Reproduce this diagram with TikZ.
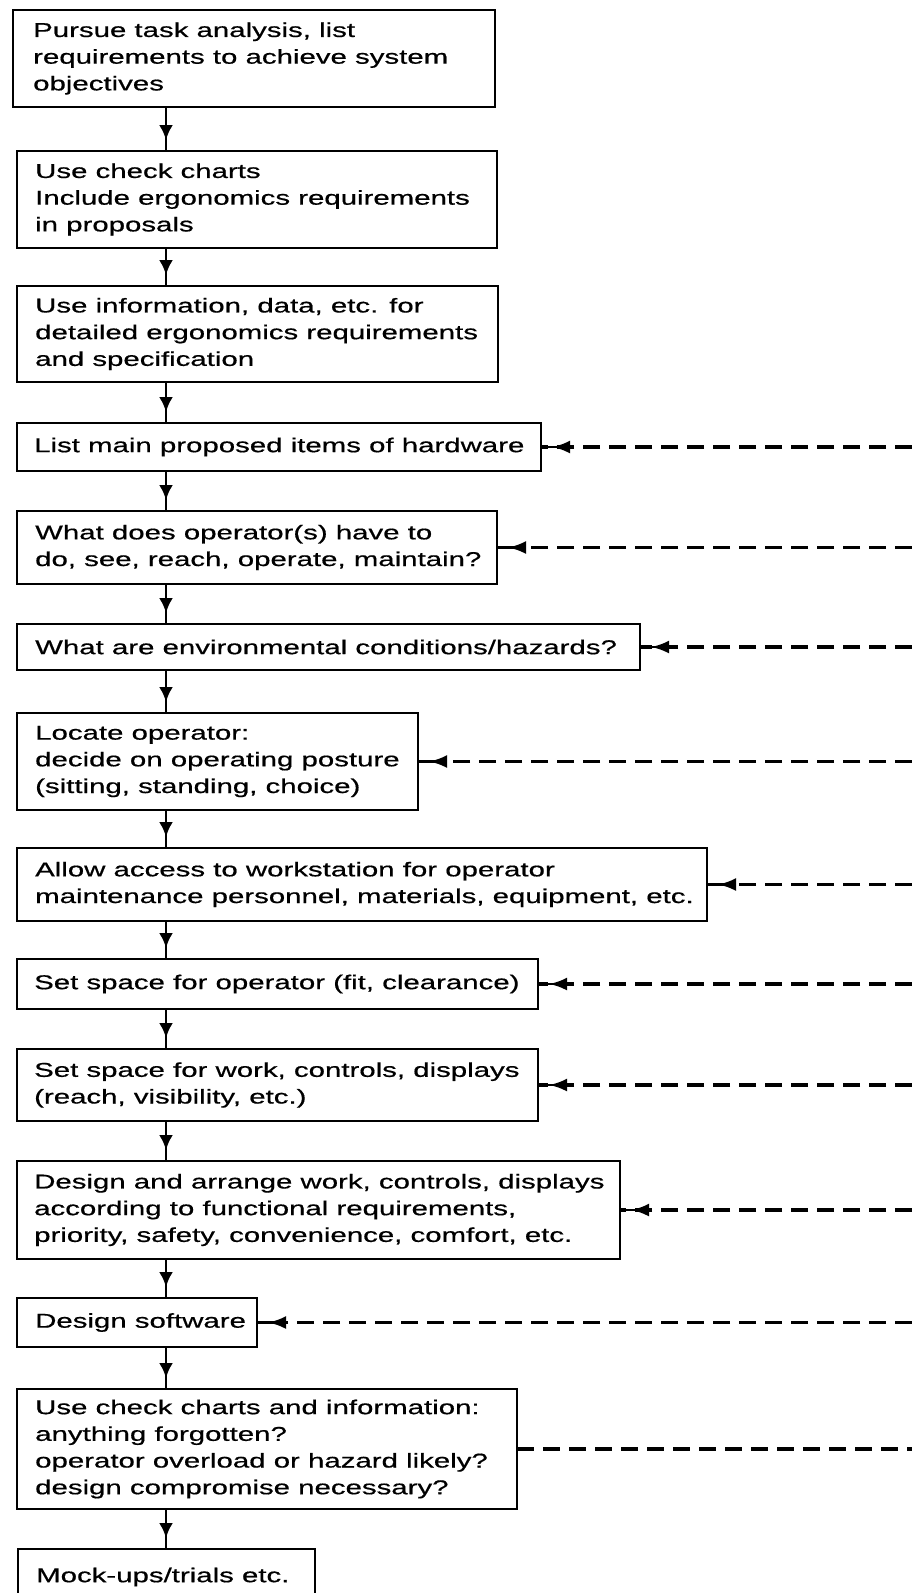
\documentclass[tikz,border=0pt]{standalone}
\usepackage{fontspec}
\setmainfont{Liberation Sans}[FakeStretch=1.47,FakeBold=0.6]
\usetikzlibrary{arrows.meta,decorations.markings}
\tikzset{
 boxst/.style={draw, line width=2.4pt, rectangle, anchor=north west, inner sep=0pt, outer sep=0pt},
 txt/.style={font=\fontsize{20}{26.7}\selectfont, align=left, inner sep=0pt, anchor=west},
 flow/.style={line width=2.6pt, postaction={decorate}, decoration={markings, mark=at position -11pt with {\arrow{Latex[length=15pt,width=14pt]}}}},
 fb/.style={line width=3.2pt, dash pattern=on 17pt off 9pt, postaction={decorate}, decoration={markings, mark=at position -11pt with {\arrow{Latex[length=18pt,width=13pt]}}}},
 stem/.style={line width=2.6pt},
 fbout/.style={line width=3.2pt, dash pattern=on 17pt off 9pt}
}
\begin{document}
\begin{tikzpicture}[x=1pt,y=-1pt]
\useasboundingbox (0,0) rectangle (912,1593);
\coordinate (ax) at (166,0);
\coordinate (rx) at (912,0);
% boxes
\node[boxst, minimum width=482pt, minimum height=97pt] (b1) at (13,10) {};
\node[boxst, minimum width=480pt, minimum height=97pt] (b2) at (17,151) {};
\node[boxst, minimum width=481pt, minimum height=96pt] (b3) at (17,286) {};
\node[boxst, minimum width=524pt, minimum height=48pt] (b4) at (17,423) {};
\node[boxst, minimum width=480pt, minimum height=73pt] (b5) at (17,511) {};
\node[boxst, minimum width=623pt, minimum height=46pt] (b6) at (17,624) {};
\node[boxst, minimum width=401pt, minimum height=97pt] (b7) at (17,713) {};
\node[boxst, minimum width=690pt, minimum height=73pt] (b8) at (17,848) {};
\node[boxst, minimum width=521pt, minimum height=50pt] (b9) at (17,959) {};
\node[boxst, minimum width=521pt, minimum height=72pt] (b10) at (17,1049) {};
\node[boxst, minimum width=603pt, minimum height=98pt] (b11) at (17,1161) {};
\node[boxst, minimum width=240pt, minimum height=49pt] (b12) at (17,1298) {};
\node[boxst, minimum width=500pt, minimum height=120pt] (b13) at (17,1389) {};
\node[boxst, minimum width=297pt, minimum height=56pt] (b14) at (18,1549) {};
% texts
\node[txt] (t1) at ([xshift=20pt]b1.west) {Pursue task analysis, list\\requirements to achieve system\\objectives};
\node[txt] (t2) at ([xshift=18pt]b2.west) {Use check charts\\Include ergonomics requirements\\in proposals};
\node[txt] (t3) at ([xshift=18pt]b3.west) {Use information, data, etc. for\\detailed ergonomics requirements\\and specification};
\node[txt] (t4) at ([xshift=17pt]b4.west) {List main proposed items of hardware};
\node[txt] (t5) at ([xshift=18pt]b5.west) {What does operator(s) have to\\do, see, reach, operate, maintain?};
\node[txt] (t6) at ([xshift=18pt]b6.west) {What are environmental conditions/hazards?};
\node[txt] (t7) at ([xshift=18pt]b7.west) {Locate operator:\\decide on operating posture\\(sitting, standing, choice)};
\node[txt] (t8) at ([xshift=18pt]b8.west) {Allow access to workstation for operator\\maintenance personnel, materials, equipment, etc.};
\node[txt] (t9) at ([xshift=17pt]b9.west) {Set space for operator (fit, clearance)};
\node[txt] (t10) at ([xshift=17pt]b10.west) {Set space for work, controls, displays\\(reach, visibility, etc.)};
\node[txt] (t11) at ([xshift=17pt]b11.west) {Design and arrange work, controls, displays\\according to functional requirements,\\priority, safety, convenience, comfort, etc.};
\node[txt] (t12) at ([xshift=18pt]b12.west) {Design software};
\node[txt] (t13) at ([xshift=18pt]b13.west) {Use check charts and information:\\anything forgotten?\\operator overload or hazard likely?\\design compromise necessary?};
\node[txt] (t14) at ([xshift=18pt]b14.west) {Mock-ups/trials etc.};
% vertical flow
\foreach \a/\b in {b1/b2,b2/b3,b3/b4,b4/b5,b5/b6,b6/b7,b7/b8,b8/b9,b9/b10,b10/b11,b11/b12,b12/b13,b13/b14}
  \draw[flow] (\a.south -| ax) -- (\b.north -| ax);
% feedback dashed lines
\foreach \b in {b4,b5,b6,b7,b8,b9,b10,b11,b12}{
  \draw[fb] (\b.east -| rx) -- (\b.east);
  \draw[stem] (\b.east) -- ++(16pt,0pt);
}
\draw[fbout] (b13.east) -- (b13.east -| rx);
\end{tikzpicture}
\end{document}
